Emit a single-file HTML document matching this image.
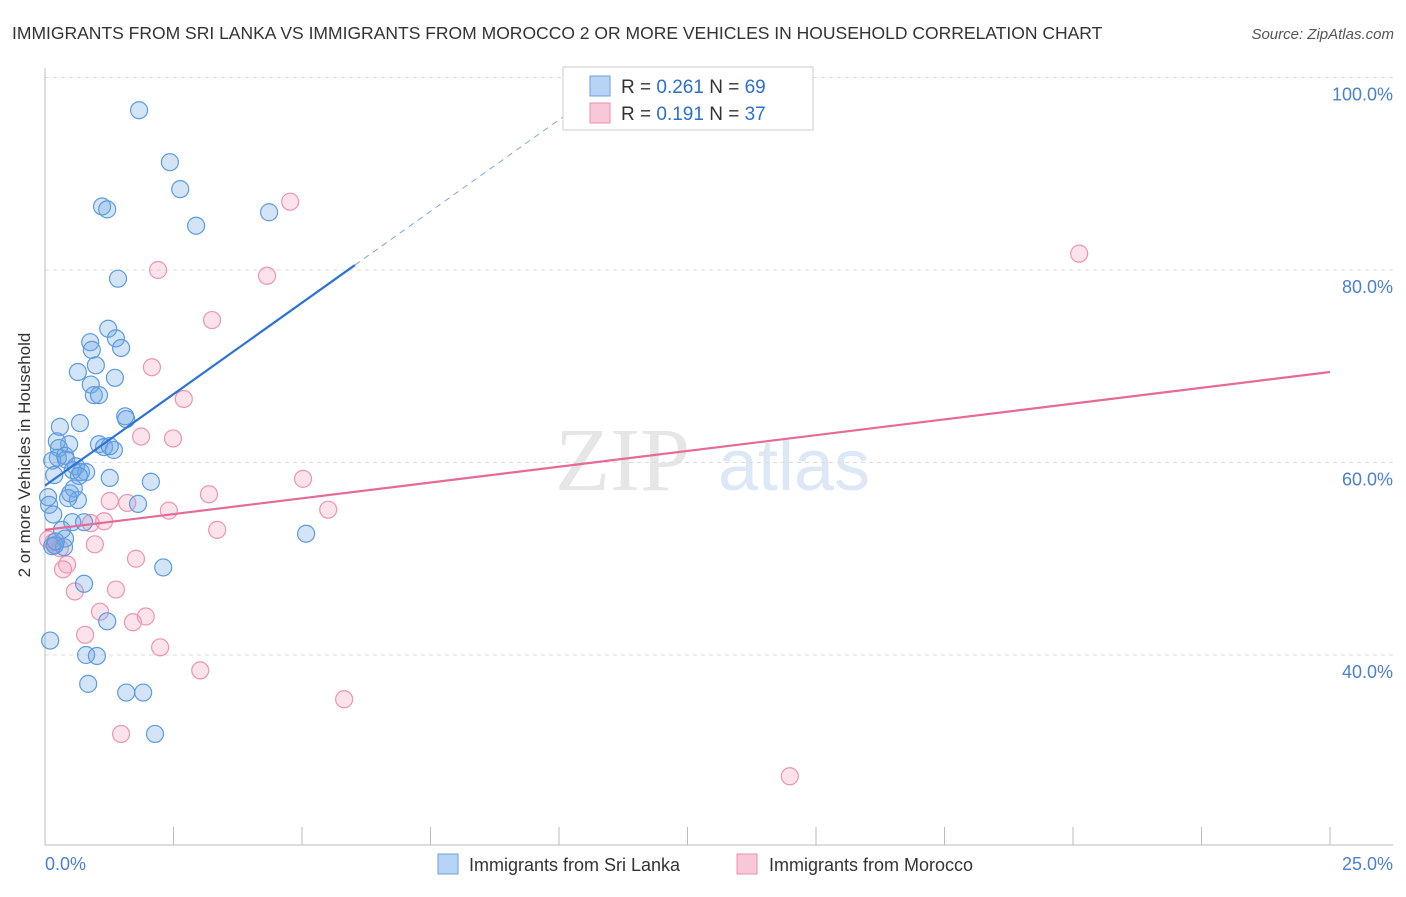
<!DOCTYPE html>
<html><head><meta charset="utf-8"><style>
body{margin:0;background:#fff;font-family:"Liberation Sans",sans-serif}
</style></head><body>
<svg id="c" width="1406" height="892" xmlns="http://www.w3.org/2000/svg">
<text x="12" y="39" font-size="17.5" fill="#333">IMMIGRANTS FROM SRI LANKA VS IMMIGRANTS FROM MOROCCO 2 OR MORE VEHICLES IN HOUSEHOLD CORRELATION CHART</text>
<text x="1394" y="39" font-size="15" fill="#555" font-style="italic" text-anchor="end">Source: ZipAtlas.com</text>
<text x="30" y="455" font-size="17" fill="#333" text-anchor="middle" transform="rotate(-90 30 455)">2 or more Vehicles in Household</text>
<g><text x="555" y="490" font-size="90" fill="#e6e6e6" font-family="Liberation Serif,serif">ZIP</text><text x="718" y="490" font-size="72" fill="#dce8f6">atlas</text></g>
<g id="grid"></g><g id="pts"></g><g id="lines"></g>
<g>
<rect x="563" y="67" width="250" height="63" fill="#fff" stroke="#ccc"/>
<rect x="590" y="76" width="20" height="20" fill="#b8d4f4" stroke="#6aa0e0"/>
<rect x="590" y="103" width="20" height="20" fill="#f9c8d8" stroke="#e890ae"/>
<text x="621" y="93" font-size="19" fill="#333">R = <tspan fill="#2d6fd0">0.261</tspan>   N = <tspan fill="#2d6fd0">69</tspan></text>
<text x="621" y="120" font-size="19" fill="#333">R =  <tspan fill="#2d6fd0">0.191</tspan>   N = <tspan fill="#2d6fd0">37</tspan></text>
</g>
<g>
<rect x="438" y="854" width="20" height="20" fill="#b8d4f4" stroke="#6aa0e0"/>
<text x="469" y="871" font-size="18" fill="#333">Immigrants from Sri Lanka</text>
<rect x="737" y="854" width="20" height="20" fill="#f9c8d8" stroke="#e890ae"/>
<text x="769" y="871" font-size="18" fill="#333">Immigrants from Morocco</text>
</g>
</svg>
<script>
const blueX=[1.83,2.43,2.63,1.11,1.21,2.94,4.36,1.42,1.23,1.38,0.88,0.91,1.48,0.99,0.64,1.36,0.89,0.95,1.05,1.56,1.58,0.68,0.29,0.23,0.47,0.27,1.05,1.15,1.34,1.26,0.39,0.25,0.14,0.41,0.60,0.80,0.70,0.54,0.66,1.26,2.06,0.18,0.49,0.56,0.64,0.45,0.06,0.08,1.81,0.53,0.76,5.08,0.39,0.37,0.14,2.30,0.76,1.21,0.10,0.80,1.01,0.84,1.58,1.91,2.14,0.16,0.33,0.19,0.21];
const blueY=[96.6,91.2,88.4,86.6,86.3,84.6,86.0,79.1,73.9,72.9,72.5,71.7,71.9,70.1,69.4,68.8,68.1,67.0,67.0,64.8,64.5,64.1,63.7,62.2,61.9,61.5,61.9,61.6,61.3,61.7,60.7,60.5,60.2,60.3,59.6,59.0,59.0,59.2,58.6,58.4,58.0,58.7,56.8,57.3,56.1,56.3,56.4,55.6,55.7,53.8,53.8,52.6,52.1,51.2,51.3,49.1,47.4,43.5,41.5,40.0,39.9,37.0,36.1,36.1,31.8,54.6,53.0,51.4,51.8];
const pinkX=[4.77,2.20,4.32,3.25,2.08,2.70,1.87,2.49,5.02,3.19,1.26,1.60,2.41,5.51,0.89,1.15,3.35,0.06,0.19,0.29,0.97,1.77,0.43,0.35,1.38,0.58,1.07,1.96,1.71,0.78,2.24,3.02,5.82,1.48,14.49,20.12,0.16];
const pinkY=[87.1,80.0,79.4,74.8,69.9,66.6,62.7,62.5,58.3,56.7,56.0,55.8,55.0,55.1,53.7,53.9,53.0,52.0,51.4,51.1,51.5,50.0,49.4,48.9,46.8,46.6,44.5,44.0,43.4,42.1,40.8,38.4,35.4,31.8,27.4,81.7,51.7];
const blueTrend=[57.6,3.8];   // intercept, slope
const pinkTrend=[53.0,0.656];
const yTicks=[40,60,80,100];
const xTicks=[0,2.5,5,7.5,10,12.5,15,17.5,20,22.5,25];
const NS="http://www.w3.org/2000/svg";
const sx=v=>45+v*51.4, sy=v=>77.5+(100-v)*9.625;
function mk(tag,at,parent){const e=document.createElementNS(NS,tag);for(const k in at)e.setAttribute(k,at[k]);parent.appendChild(e);return e;}
const grid=document.getElementById('grid'),pts=document.getElementById('pts'),lines=document.getElementById('lines');
yTicks.forEach(t=>{
 const l=mk('line',{x1:45,x2:1393,y1:sy(t),y2:sy(t),stroke:'#ddd','stroke-dasharray':'4,4'},grid);
 
 
 const tx=mk('text',{x:1393,y:sy(t)+23,'font-size':18,fill:'#4a80d0','text-anchor':'end'},grid);tx.textContent=t.toFixed(1)+'%';
 
 
});
const ax=mk('line',{x1:45,x2:1393,y1:845,y2:845,stroke:'#bbb'},grid);


const ay=mk('line',{x1:45,x2:45,y1:68,y2:845,stroke:'#bbb'},grid);


xTicks.forEach(t=>{const l=mk('line',{x1:sx(t),x2:sx(t),y1:827,y2:845,stroke:'#bbb'},grid);
 
 });
[[0,'start',45],[25,'end',1393]].forEach(([v,a,x])=>{const t=mk('text',{x:x,y:870,'font-size':18,fill:'#4a80d0','text-anchor':a},grid);t.textContent=v.toFixed(1)+'%';
 
 });
pinkX.forEach((x,i)=>{const c=mk('circle',{cx:sx(x),cy:sy(pinkY[i]),r:8.5,fill:'rgba(245,160,190,0.3)',stroke:'#eb95b3','stroke-width':1.2},pts);
 
 });
blueX.forEach((x,i)=>{const c=mk('circle',{cx:sx(x),cy:sy(blueY[i]),r:8.5,fill:'rgba(110,165,230,0.3)',stroke:'#5d9be0','stroke-width':1.2},pts);
 
 });
const bf=x=>blueTrend[0]+blueTrend[1]*x, pf=x=>pinkTrend[0]+pinkTrend[1]*x;
const b1=mk('line',{x1:sx(0),y1:sy(bf(0)),x2:sx(6.03),y2:sy(bf(6.03)),stroke:'#2d72d6','stroke-width':2.2},lines);


const b2=mk('line',{x1:sx(6.03),y1:sy(bf(6.03)),x2:sx(10.6),y2:sy(bf(10.6)),stroke:'#7aa8e0','stroke-width':1,'stroke-dasharray':'6,5'},lines);


const p1=mk('line',{x1:sx(0),y1:sy(pf(0)),x2:sx(25),y2:sy(pf(25)),stroke:'#e56a95','stroke-width':2.2},lines);


</script>
</body></html>
